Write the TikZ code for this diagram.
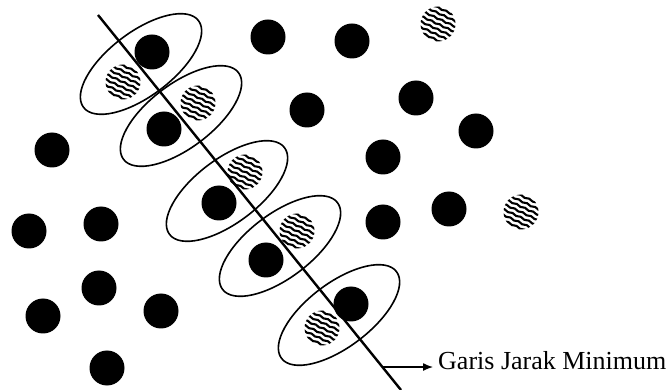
\documentclass[tikz,border=0pt]{standalone}
\usepackage{fontspec}
\setmainfont{Liberation Serif}
\usetikzlibrary{shapes,arrows.meta,positioning,calc,decorations.pathmorphing}

\tikzset{
  blackdot/.style={circle,fill=black,minimum size=35pt,inner sep=0pt},
  stripedot/.style={circle,fill=white,minimum size=35pt,inner sep=0pt,
    path picture={
      \foreach \k in {-6,...,6}
        \draw[line width=2.1pt,decorate,
              decoration={snake,amplitude=0.6pt,segment length=9pt}]
          ($(path picture bounding box.center)+({-25.4pt+2.11pt*\k},{11.8pt+4.53pt*\k})$)
            -- ++(50.7pt,-23.7pt);
    }},
  pairring/.style={draw,ellipse,line width=1.6pt,minimum width=144pt,
                   minimum height=64pt,inner sep=0pt,rotate=37}
}

\begin{document}
\begin{tikzpicture}[x=1pt,y=-1pt]
  \useasboundingbox (0,0) rectangle (670,390);
  % scattered points
  \foreach \i/\x/\y in {1/268/37, 2/352/41, 3/307/110, 4/416/98, 5/476/131,
                        6/383/157, 7/383/222, 8/449/209, 9/52/150, 10/29/231,
                        11/101/224, 12/99/288, 13/43/316, 14/161/311, 15/107/368}{
    \node[blackdot] (b\i) at (\x,\y) {};
  }
  \node[stripedot] (s1) at (438,24) {};
  \node[stripedot] (s2) at (521,212) {};
  % pairs next to the line
  \foreach \i/\cx/\cy/\bx/\by/\hx/\hy in {1/141/64/152/52/123/82,
        2/181/116/164/129/198/103, 3/227/191/219/203/245/172,
        4/280/246/266/260/297/231, 5/339/315/351/304/322/328}{
    \node[pairring] (e\i) at (\cx,\cy) {};
    \node[blackdot] (pb\i) at (\bx,\by) {};
    \node[stripedot] (ps\i) at (\hx,\hy) {};
  }
  % separating line
  \coordinate (top) at (98,15);
  \coordinate (bot) at (401,390);
  \draw[line width=2.4pt] (top) -- (bot);
  \coordinate (foot) at ($(top)!0.9387!(bot)$);
  \node[anchor=base west,inner sep=0pt,font=\fontsize{26}{30}\selectfont]
    (label) at (438,370) {Garis Jarak Minimum};
  \draw[line width=1.3pt,-{Latex[length=10pt,width=8pt]},shorten >=5pt]
    (foot) -- (foot -| label.west);
\end{tikzpicture}
\end{document}
